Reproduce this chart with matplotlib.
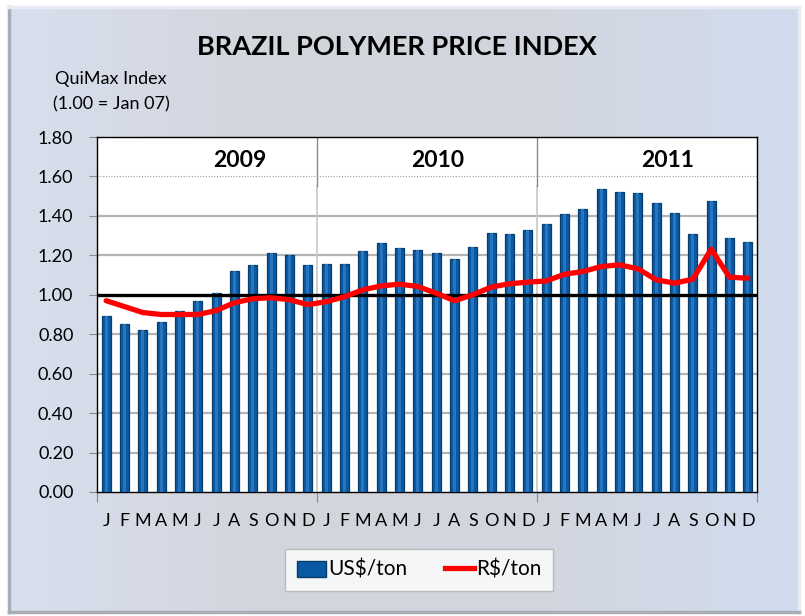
import matplotlib
matplotlib.use("Agg")
import matplotlib.pyplot as plt
import numpy as np
from matplotlib.patches import Patch
from matplotlib.lines import Line2D
from matplotlib.colors import LinearSegmentedColormap

# ---------------- data ----------------
months = list("JFMAMJJASOND") * 3
years = ["2009", "2010", "2011"]
usd_ton = [0.89, 0.85, 0.82, 0.86, 0.92, 0.97, 1.01, 1.12, 1.15, 1.21, 1.20, 1.15,
           1.155, 1.155, 1.22, 1.265, 1.235, 1.225, 1.21, 1.18, 1.24, 1.315, 1.31, 1.33,
           1.36, 1.41, 1.435, 1.535, 1.52, 1.515, 1.465, 1.415, 1.31, 1.475, 1.29, 1.27]
brl_ton = [0.97, 0.94, 0.91, 0.90, 0.90, 0.90, 0.92, 0.96, 0.98, 0.985, 0.975, 0.95,
           0.965, 0.99, 1.025, 1.045, 1.054, 1.042, 1.008, 0.97, 1.0, 1.039, 1.056, 1.064,
           1.07, 1.104, 1.118, 1.143, 1.152, 1.132, 1.076, 1.059, 1.079, 1.231, 1.089, 1.084]
yticks = [0.0, 0.2, 0.4, 0.6, 0.8, 1.0, 1.2, 1.4, 1.6, 1.8]
year_label_pos = [7.3, 18.1, 30.6]

FONT = "Lato"
plt.rcParams['font.family'] = [FONT, 'DejaVu Sans']

W, H = 805, 616
fig = plt.figure(figsize=(W / 100, H / 100), dpi=100)
fig.patch.set_facecolor("white")

# background frame with gradient
bg = fig.add_axes([9 / W, (H - 612) / H, 790 / W, 605 / H], zorder=0)
cmap = LinearSegmentedColormap.from_list("bg", ["#d7dfee", "#d3d5dc", "#d2d6de", "#d1dcef"])
grad = np.tile(np.linspace(0, 1, 256), (20, 1))
bg.imshow(grad, aspect="auto", cmap=cmap, extent=[0, 1, 0, 1])
bg.set_xlim(0, 1); bg.set_ylim(0, 1)
bg.set_xticks([]); bg.set_yticks([])
for side, sp in bg.spines.items():
    sp.set_linewidth(2.5)
    sp.set_color("#a9adb5" if side in ("left", "bottom") else "#e8ecf2")

# main axes
ax = fig.add_axes([97 / W, (H - 492) / H, 660 / W, 355 / H], zorder=2)
ax.set_facecolor("white")
x = np.arange(len(months))

# gridlines
for yv in yticks[1:-1]:
    if yv == 1.6:
        ax.axhline(yv, color="#9a9a9a", lw=0.8, ls=(0, (1, 1.5)), zorder=1)
    elif yv != 1.0:
        ax.axhline(yv, color="#b4b4b4", lw=1.6, zorder=1)

# year separators
for b in (11.5, 23.5):
    ax.plot([b, b], [0, 1.55], color="#c8c8c8", lw=1.2, zorder=1)
    ax.plot([b, b], [1.55, 1.8], color="#8a8a8a", lw=1.0, zorder=1)

# bars
ax.bar(x, usd_ton, width=0.49, color="#0a5aa3", edgecolor="#073d6c", linewidth=0.9, zorder=3)
ax.bar(x, usd_ton, width=0.18, color="#2a74bb", linewidth=0, zorder=3.5)

# 1.00 reference line
ax.axhline(1.0, color="black", lw=2.4, zorder=4)

# R$ line
ax.plot(x, brl_ton, color="#ff0000", lw=3.8, solid_joinstyle="round",
        solid_capstyle="round", zorder=5)

ax.set_xlim(-0.5, len(months) - 0.5)
ax.set_ylim(0, 1.8)
ax.set_yticks(yticks)
ax.set_yticklabels([f"{v:.2f}" for v in yticks], fontsize=13)
ax.tick_params(axis="y", length=6, width=0.8, color="#8a8a8a", pad=11)
ax.set_xticks(x)
ax.set_xticklabels(months, fontsize=13)
ax.tick_params(axis="x", length=0, pad=15)
ax.set_xticks([-0.5, 11.5, 23.5, 35.5], minor=True)
ax.tick_params(axis="x", which="minor", length=7, width=0.8, color="#8a8a8a")
for sp in ax.spines.values():
    sp.set_color("black")
    sp.set_linewidth(1.0)

for lab, pos in zip(years, year_label_pos):
    ax.text(pos, 1.68, lab, ha="center", va="center", fontsize=16.5, fontweight="bold", zorder=6)

# titles
fig.text(397 / W, 1 - 47 / H, "BRAZIL POLYMER PRICE INDEX", ha="center", va="center",
         fontsize=19.5, fontweight="bold")
fig.text(111 / W, 1 - 79 / H, "QuiMax Index", ha="center", va="center", fontsize=13)
fig.text(111 / W, 1 - 104 / H, "(1.00 = Jan 07)", ha="center", va="center", fontsize=13)

# legend
handles = [Patch(facecolor="#0a5aa3", edgecolor="#073d6c", label="US$/ton"),
           Line2D([0], [0], color="#ff0000", lw=3.8, label="R$/ton")]
leg = fig.legend(handles=handles, loc="center", bbox_to_anchor=(419 / W, 1 - 570 / H),
                 ncol=2, frameon=True, fancybox=False, fontsize=15, handlelength=1.4,
                 handleheight=0.8, handletextpad=0.1, columnspacing=1.8,
                 borderpad=0.55, borderaxespad=0)
leg.get_frame().set_edgecolor("#b0b0b0")
leg.get_frame().set_linewidth(1.0)
leg.set_zorder(10)

fig.savefig("out.png", dpi=100)
